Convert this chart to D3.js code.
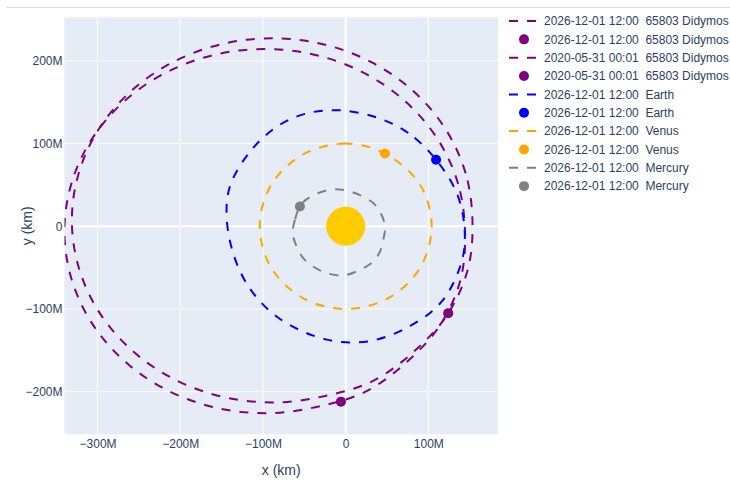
<!DOCTYPE html>
<html>
<head>
<meta charset="utf-8">
<script src="https://cdn.jsdelivr.net/npm/d3@7"></script>
<style>
  body { margin: 0; background: #fff; }
  svg { font-family: "Liberation Sans", Arial, sans-serif; display: block; }
</style>
</head>
<body>
<div id="chart"></div>
<script>
// all positions are in millions of km (x, y)

var xTicks = [-300, -200, -100, 0, 100];
var yTicks = [-200, -100, 0, 100, 200];

var sunPos = [0, 0];

var didymosOrbit2026 = [
  [153.3, 7.2], [145.0, 64.2], [120.9, 117.3], [82.4, 162.9], [32.2, 197.9],
  [-26.2, 219.9], [-88.9, 227.4], [-151.6, 219.9], [-210.0, 197.9], [-260.2, 162.9],
  [-298.7, 117.3], [-322.8, 64.2], [-331.1, 7.2], [-322.8, -49.8], [-298.7, -102.9],
  [-260.2, -148.5], [-210.0, -183.5], [-151.6, -205.5], [-88.9, -213.0], [-26.2, -205.5],
  [33.0, -187.0], [83.5, -150.5], [123.5, -106.0], [148.0, -51.0]
];
var didymosPos2026 = [124.0, -105.0];

var didymosOrbit2020 = [
  [144.3, -5.8], [136.0, 51.2], [111.9, 104.3], [73.4, 149.9], [23.2, 184.9],
  [-35.2, 206.9], [-97.9, 214.4], [-160.6, 206.9], [-219.0, 184.9], [-269.2, 149.9],
  [-307.7, 104.3], [-331.8, 51.2], [-340.1, -5.8], [-331.8, -62.8], [-307.7, -115.9],
  [-269.2, -161.5], [-219.0, -196.5], [-160.6, -218.5], [-97.9, -226.0], [-35.2, -218.5],
  [24.0, -200.0], [74.5, -163.5], [114.5, -119.0], [139.0, -64.0]
];
var didymosPos2020 = [-5.7, -212.0];

var earthOrbit = [
  [109.3, 80.5], [75.7, 112.8], [39.4, 130.9], [-4.8, 140.1], [-45.0, 137.0],
  [-80.0, 122.5], [-113.7, 92.6], [-140.0, 48.2], [-143.5, 5.0], [-131.9, -44.5],
  [-111.8, -80.8], [-78.0, -113.0], [-23.0, -137.0], [28.0, -139.0], [78.0, -120.5],
  [117.0, -90.0], [141.0, -40.0], [143.5, 0.0], [134.3, 40.2]
];
var earthPos = [109.3, 80.5];

var venusOrbit = [
  [47.5, 88.0], [0.0, 100.0], [-52.0, 86.6], [-90.1, 50.0], [-104.0, 0.0],
  [-90.1, -50.0], [-52.0, -86.6], [0.0, -100.0], [52.0, -86.6], [90.1, -50.0],
  [104.0, 0.0], [90.1, 50.0]
];
var venusPos = [47.5, 88.0];

var mercuryOrbit = [
  [-55.3, 24.0], [-61.3, 7.9], [-64.1, -8.2], [-59.3, -24.4], [-51.3, -38.5],
  [-39.2, -48.6], [-23.0, -56.6], [-2.9, -59.5], [17.3, -52.6], [33.4, -42.6],
  [41.5, -30.5], [45.5, -16.3], [47.6, -0.2], [43.0, 14.5], [33.4, 28.1],
  [5.2, 42.1], [-19.0, 44.2], [-45.3, 34.1]
];
var mercuryPos = [-55.3, 24.0];

var legendLabels = [
  "2026-12-01 12:00  65803 Didymos",
  "2026-12-01 12:00  65803 Didymos",
  "2020-05-31 00:01  65803 Didymos",
  "2020-05-31 00:01  65803 Didymos",
  "2026-12-01 12:00  Earth",
  "2026-12-01 12:00  Earth",
  "2026-12-01 12:00  Venus",
  "2026-12-01 12:00  Venus",
  "2026-12-01 12:00  Mercury",
  "2026-12-01 12:00  Mercury"
];

// trace table in plotting order
var traces = [
  {kind: "line",   color: "purple", pts: didymosOrbit2026},
  {kind: "marker", color: "purple", pts: [didymosPos2026]},
  {kind: "line",   color: "purple", pts: didymosOrbit2020},
  {kind: "marker", color: "purple", pts: [didymosPos2020]},
  {kind: "line",   color: "blue",   pts: earthOrbit},
  {kind: "marker", color: "blue",   pts: [earthPos]},
  {kind: "line",   color: "orange", pts: venusOrbit},
  {kind: "marker", color: "orange", pts: [venusPos]},
  {kind: "line",   color: "gray",   pts: mercuryOrbit},
  {kind: "marker", color: "gray",   pts: [mercuryPos]}
];
traces.forEach(function(t, i) { t.label = legendLabels[i]; });

var svgWidth = 730, svgHeight = 481;
var plot = {left: 64.5, top: 17.3, width: 433.5, height: 417};
var textColor = "#2a3f5f";
var fontFamily = '"Liberation Sans", Arial, sans-serif';

var svg = d3.select("#chart").append("svg")
  .attr("width", svgWidth)
  .attr("height", svgHeight);

// thin border line at the top of the page
svg.append("line")
  .attr("x1", 7).attr("x2", svgWidth)
  .attr("y1", 7.5).attr("y2", 7.5)
  .attr("stroke", "#dcdcdc")
  .attr("stroke-width", 1);

var xScale = d3.scaleLinear()
  .domain([-340, 184.2])
  .range([plot.left, plot.left + plot.width]);

var yScale = d3.scaleLinear()
  .domain([252.7, -251.5])
  .range([plot.top, plot.top + plot.height]);

// plot background
svg.append("rect")
  .attr("x", plot.left).attr("y", plot.top)
  .attr("width", plot.width).attr("height", plot.height)
  .attr("fill", "#E5ECF6");

svg.append("clipPath").attr("id", "clip")
  .append("rect")
  .attr("x", plot.left).attr("y", plot.top)
  .attr("width", plot.width).attr("height", plot.height);

// grid lines (zero lines a bit thicker)
var grid = svg.append("g");
grid.selectAll(".gx").data(xTicks).enter().append("line")
  .attr("x1", d => xScale(d)).attr("x2", d => xScale(d))
  .attr("y1", plot.top).attr("y2", plot.top + plot.height)
  .attr("stroke", "white")
  .attr("stroke-width", d => d === 0 ? 2 : 1);
grid.selectAll(".gy").data(yTicks).enter().append("line")
  .attr("y1", d => yScale(d)).attr("y2", d => yScale(d))
  .attr("x1", plot.left).attr("x2", plot.left + plot.width)
  .attr("stroke", "white")
  .attr("stroke-width", d => d === 0 ? 2 : 1);

function fmtM(d) {
  if (d === 0) return "0";
  return (d < 0 ? "\u2212" + Math.abs(d) : d) + "M";
}

// axes
var xAxis = d3.axisBottom(xScale).tickValues(xTicks).tickFormat(fmtM).tickSize(0).tickPadding(5);
var yAxis = d3.axisLeft(yScale).tickValues(yTicks).tickFormat(fmtM).tickSize(0).tickPadding(2);

var gx = svg.append("g")
  .attr("transform", `translate(0, ${plot.top + plot.height})`)
  .call(xAxis);
var gy = svg.append("g")
  .attr("transform", `translate(${plot.left}, 0)`)
  .call(yAxis);
[gx, gy].forEach(function(g) {
  g.select(".domain").remove();
  g.selectAll("text")
    .attr("fill", textColor)
    .style("font-size", "12px")
    .style("font-family", fontFamily);
});

// axis titles
svg.append("text")
  .attr("x", plot.left + plot.width / 2)
  .attr("y", 475)
  .attr("text-anchor", "middle")
  .attr("fill", textColor)
  .style("font-size", "14px")
  .text("x (km)");

svg.append("text")
  .attr("transform", `translate(32, ${plot.top + plot.height / 2}) rotate(-90)`)
  .attr("text-anchor", "middle")
  .attr("fill", textColor)
  .style("font-size", "14px")
  .text("y (km)");

// data layer
var chartGroup = svg.append("g").attr("clip-path", "url(#clip)");

var orbitLine = d3.line()
  .x(d => xScale(d[0]))
  .y(d => yScale(d[1]))
  .curve(d3.curveCatmullRomClosed.alpha(0.5));

// the Sun
chartGroup.append("circle")
  .attr("cx", xScale(sunPos[0]))
  .attr("cy", yScale(sunPos[1]))
  .attr("r", 19.5)
  .attr("fill", "#FFCC00");

traces.forEach(function(t) {
  if (t.kind === "line") {
    chartGroup.append("path")
      .datum(t.pts)
      .attr("d", orbitLine)
      .attr("fill", "none")
      .attr("stroke", t.color)
      .attr("stroke-width", 2)
      .attr("stroke-dasharray", "9,9");
  } else {
    chartGroup.selectAll(null)
      .data(t.pts)
      .enter()
      .append("circle")
      .attr("cx", d => xScale(d[0]))
      .attr("cy", d => yScale(d[1]))
      .attr("r", 5)
      .attr("fill", t.color);
  }
});

// legend
var legend = svg.append("g").attr("transform", "translate(504, 21)");
var items = legend.selectAll("g")
  .data(traces)
  .enter()
  .append("g")
  .attr("transform", (d, i) => `translate(0, ${i * 18.35})`);

items.filter(d => d.kind === "line").append("line")
  .attr("x1", 5).attr("x2", 35)
  .attr("y1", 0).attr("y2", 0)
  .attr("stroke", d => d.color)
  .attr("stroke-width", 2)
  .attr("stroke-dasharray", "9,9");

items.filter(d => d.kind === "marker").append("circle")
  .attr("cx", 20).attr("cy", 0)
  .attr("r", 5)
  .attr("fill", d => d.color);

items.append("text")
  .attr("x", 40)
  .attr("y", 0)
  .attr("dy", "0.35em")
  .attr("fill", textColor)
  .style("font-size", "12px")
  .style("white-space", "pre")
  .text(d => d.label);
</script>
</body>
</html>
